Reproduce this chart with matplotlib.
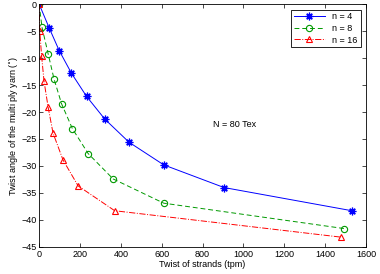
import matplotlib
matplotlib.use('Agg')
import matplotlib.pyplot as plt

# n = 4
x4 = [0, 49, 98, 158, 232, 321, 440, 610, 905, 1531]
y4 = [0, -4.4, -8.6, -12.8, -17.1, -21.3, -25.6, -29.8, -34.0, -38.3]
# n = 8
x8 = [0, 14, 44, 73, 110, 163, 240, 362, 610, 1492]
y8 = [0, -4.3, -9.2, -13.9, -18.5, -23.1, -27.7, -32.4, -36.9, -41.6]
# n = 16
x16 = [0, 3, 12, 24, 44, 68, 117, 191, 370, 1479]
y16 = [0, -5.0, -9.6, -14.3, -19.1, -23.9, -28.9, -33.7, -38.3, -43.2]

plt.rcParams['font.family'] = ['Liberation Sans', 'DejaVu Sans']
plt.rcParams['font.size'] = 6.5

fig = plt.figure(figsize=(3.8, 2.74), dpi=100)
ax = fig.add_axes([0.103, 0.099, 0.860, 0.886])

ax.plot(x4, y4, '-', color='#0000ff', lw=0.7, marker=(8, 2, 0), ms=5.5,
        mew=0.9, label='n = 4')
ax.plot(x8, y8, '--', color='#009900', lw=0.7, marker='o', ms=4.5, mfc='none',
        mew=0.8, dashes=(5, 3), label='n = 8')
ax.plot(x16, y16, '-.', color='#ff0000', lw=0.7, marker='^', ms=5, mfc='none',
        mew=0.8, label='n = 16')

ax.text(850, -22.3, 'N = 80 Tex', va='center', ha='left')

ax.set_xlim(0, 1600)
ax.set_ylim(-45, 0)
ax.set_xticks(range(0, 1601, 200))
ax.set_yticks(range(-45, 1, 5))
ax.tick_params(direction='in', top=True, right=True, length=3, width=0.5, pad=2)
for s in ax.spines.values():
    s.set_linewidth(0.6)
ax.set_xlabel('Twist of strands (tpm)', labelpad=1)
ax.set_ylabel('Twist angle of the multi ply yarn ($^{\\circ}$)', labelpad=1)

leg = ax.legend(loc='upper right', fancybox=False, edgecolor='black',
                framealpha=1, borderaxespad=0.6, handlelength=3.5,
                labelspacing=0.3, borderpad=0.3)
leg.get_frame().set_linewidth(0.6)

fig.savefig('out.png', dpi=100)
